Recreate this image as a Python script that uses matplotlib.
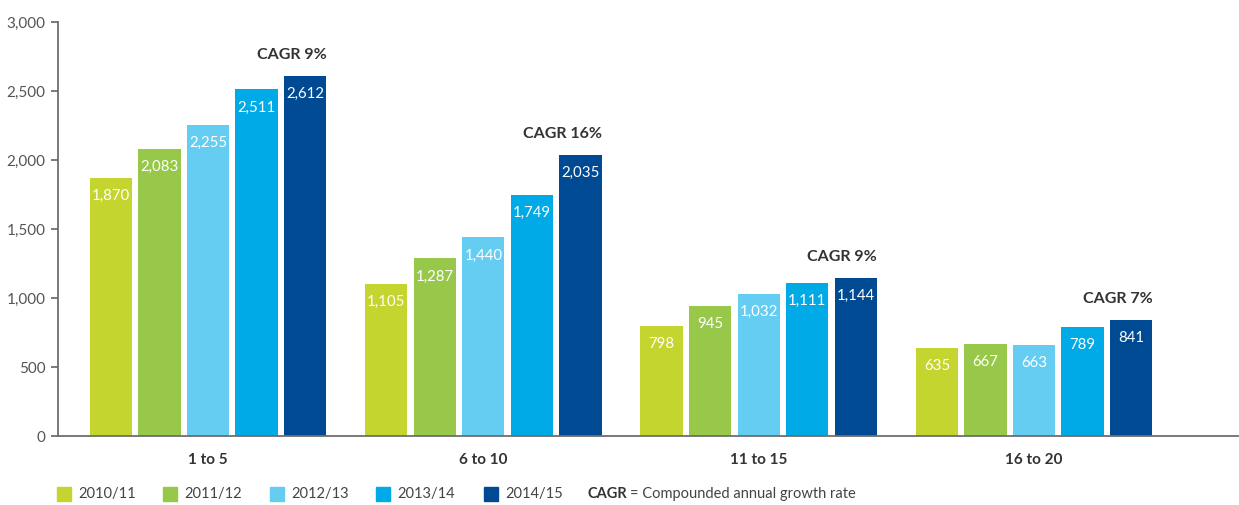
import matplotlib
matplotlib.use('Agg')
import matplotlib.pyplot as plt
from matplotlib.patches import Rectangle
import numpy as np

plt.rcParams['font.family'] = ['Lato', 'DejaVu Sans']

groups = ['1 to 5', '6 to 10', '11 to 15', '16 to 20']
years = ['2010/11', '2011/12', '2012/13', '2013/14', '2014/15']
v2010 = [1870, 1105, 798, 635]
v2011 = [2083, 1287, 945, 667]
v2012 = [2255, 1440, 1032, 663]
v2013 = [2511, 1749, 1111, 789]
v2014 = [2612, 2035, 1144, 841]
cagr = ['CAGR 9%', 'CAGR 16%', 'CAGR 9%', 'CAGR 7%']
series = [v2010, v2011, v2012, v2013, v2014]
colors = ['#c4d52f', '#98c84a', '#66cdf2', '#00aae6', '#004a93']

axis_grey = '#6e6e6e'
text_dark = '#333333'

fig = plt.figure(figsize=(12.39, 5.05), dpi=100)
ax = fig.add_axes([0.0468, 0.1366, 0.952, 0.8198])

group_pos = np.arange(len(groups)) * 5.67
width = 0.87

for j, (vals, col) in enumerate(zip(series, colors)):
    xs = group_pos + (j - 2)
    bars = ax.bar(xs, vals, width=width, color=col, zorder=2)
    for b, v in zip(bars, vals):
        ax.annotate(f'{v:,}', (b.get_x() + b.get_width() / 2, v),
                    xytext=(0, -8), textcoords='offset points',
                    ha='center', va='top', color='white', fontsize=10.8)

# growth-rate labels above the latest year's bar
for gx, lab, v in zip(group_pos, cagr, v2014):
    ax.annotate(lab, (gx + 2 + width / 2, v), xytext=(0, 10),
                textcoords='offset points', ha='right', va='bottom',
                color=text_dark, fontsize=11.5, fontweight='bold')

ax.set_xlim(-3.09, 21.2)
ax.set_ylim(0, 3000)
ax.set_yticks(range(0, 3001, 500))
ax.set_yticklabels([f'{t:,}' for t in range(0, 3001, 500)])
ax.set_xticks(group_pos)
ax.set_xticklabels(groups, fontweight='bold', color=text_dark, fontsize=11)

for s in ['top', 'right']:
    ax.spines[s].set_visible(False)
for s in ['left', 'bottom']:
    ax.spines[s].set_color(axis_grey)
    ax.spines[s].set_linewidth(1.3)
ax.tick_params(axis='y', length=5, width=1.3, color=axis_grey,
               labelcolor='#555555', labelsize=11, pad=4)
ax.tick_params(axis='x', length=0, pad=12)

# legend row along the bottom
leg_x = [57, 163, 270, 376, 484]
for lx, lab, col in zip(leg_x, years, colors):
    fig.add_artist(Rectangle((lx / 1239, 1 - 501 / 505), 14 / 1239, 14 / 505,
                             transform=fig.transFigure, color=col))
    fig.text((lx + 21) / 1239, 1 - 494 / 505, lab, va='center',
             color='#444444', fontsize=10.5)
fig.text(587 / 1239, 1 - 494 / 505, 'CAGR', va='center', fontweight='bold',
         color=text_dark, fontsize=10.5)
fig.text(630 / 1239, 1 - 494 / 505, '= Compounded annual growth rate',
         va='center', color='#444444', fontsize=10.5)

fig.savefig('out.png', dpi=100)
